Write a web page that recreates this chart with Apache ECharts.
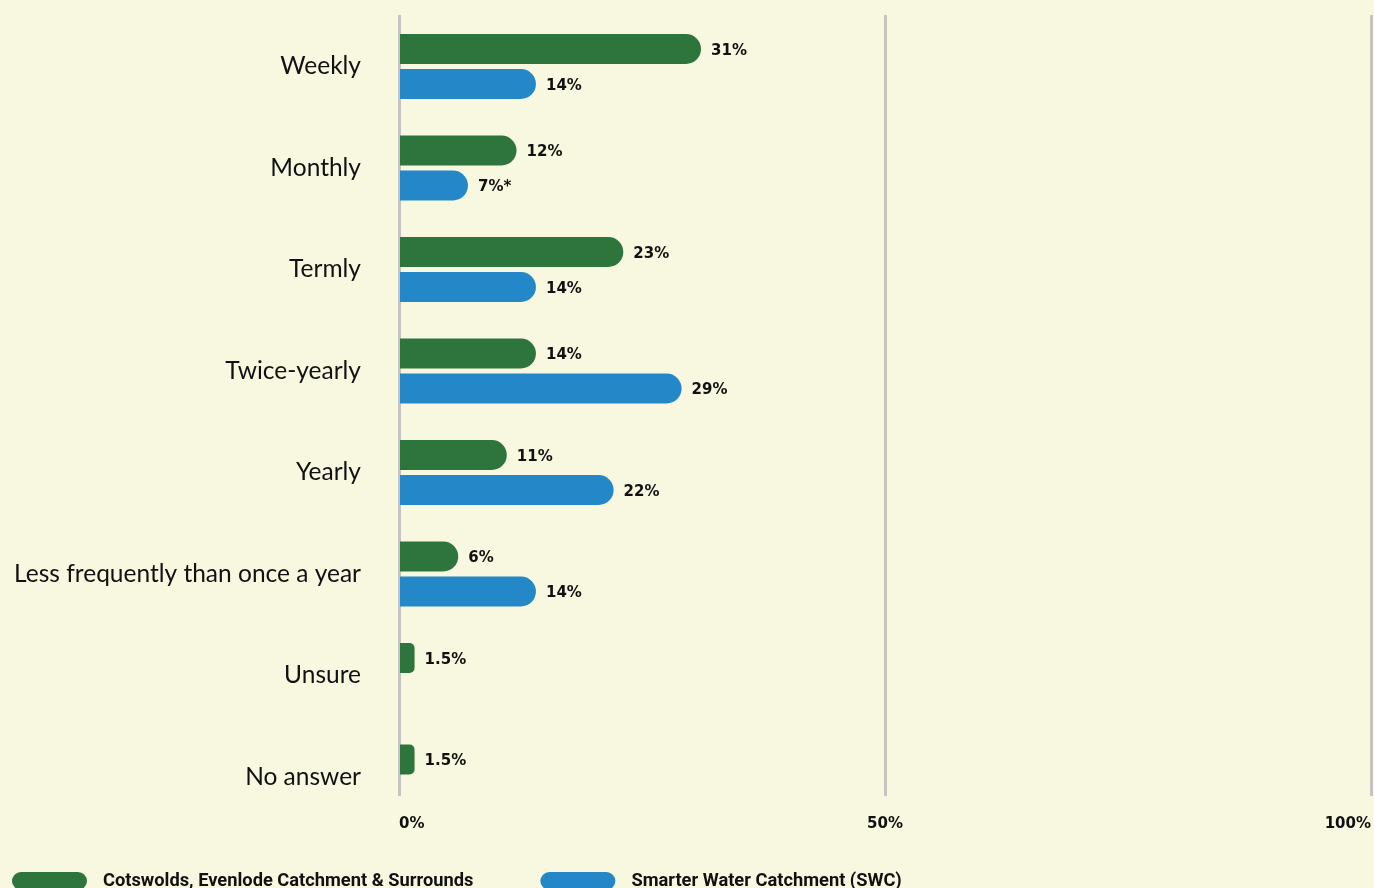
<!DOCTYPE html>
<html>
<head>
<meta charset="utf-8">
<script src="https://cdn.jsdelivr.net/npm/echarts@6/dist/echarts.min.js"></script>
<style>
  html, body { margin: 0; padding: 0; background: #f8f8e0; }
  #chart { width: 1374px; height: 888px; }
</style>
</head>
<body>
<div id="chart"></div>
<script>
// data
const categories = ["Weekly", "Monthly", "Termly", "Twice-yearly", "Yearly", "Less frequently than once a year", "Unsure", "No answer"];
const cotswolds = [31, 12, 23, 14, 11, 6, 1.5, 1.5];
const swc = [14, 7, 14, 29, 22, 14, "-", "-"];
const swcNotes = ["", "*", "", "", "", "", "", ""];
const axisTicks = [0, 50, 100];

const GREEN = "#2d743d";
const BLUE = "#2387c8";
const pill = "path://M9,0 L66,0 A9,9 0 0 1 66,18 L9,18 A9,9 0 0 1 9,0 Z";

const chart = echarts.init(document.getElementById("chart"));

const valueLabel = {
  show: true,
  position: "right",
  distance: 10,
  offset: [0, 2],
  color: "#111",
  fontFamily: "DejaVu Sans",
  fontWeight: "bold",
  fontSize: 15
};

// tiny bars get a small corner radius, like the reference
const toItems = arr => arr.map(v =>
  (typeof v === "number" && v < 3) ? { value: v, itemStyle: { borderRadius: [0, 5, 5, 0] } } : v
);

chart.setOption({
  backgroundColor: "#f8f8e0",
  animation: false,
  grid: [
    // bars
    { left: 400, right: 3, top: 15.75, height: 812 },
    // gridlines + value labels
    { left: 399, right: 3, top: 15, bottom: 92 }
  ],
  legend: {
    left: 12,
    top: 872,
    padding: 0,
    itemWidth: 75,
    itemHeight: 18,
    itemGap: 67,
    textStyle: {
      color: "#111",
      fontFamily: "Roboto",
      fontWeight: "bold",
      fontSize: 18.3,
      padding: [0, 0, 0, 11]
    },
    data: [
      { name: "Cotswolds, Evenlode Catchment & Surrounds", icon: pill },
      { name: "Smarter Water Catchment (SWC)", icon: pill }
    ]
  },
  xAxis: [
    { gridIndex: 0, type: "value", min: 0, max: 100, show: false },
    {
      gridIndex: 1,
      type: "value",
      min: axisTicks[0],
      max: axisTicks[axisTicks.length - 1],
      interval: axisTicks[1] - axisTicks[0],
      axisLine: { show: false },
      axisTick: { show: false },
      splitLine: { show: true, lineStyle: { color: "#c4c4c0", width: 3 } },
      axisLabel: {
        margin: 21,
        color: "#111",
        fontFamily: "DejaVu Sans",
        fontWeight: "bold",
        fontSize: 15,
        alignMinLabel: "left",
        alignMaxLabel: "right",
        formatter: "{value}%"
      }
    }
  ],
  yAxis: [
    {
      gridIndex: 0,
      type: "category",
      inverse: true,
      data: categories,
      axisLine: { show: false },
      axisTick: { show: false },
      axisLabel: { margin: 39, color: "#111", fontFamily: "Lato", fontSize: 24.5 }
    },
    { gridIndex: 1, type: "value", show: false }
  ],
  series: [
    {
      name: "Cotswolds, Evenlode Catchment & Surrounds",
      type: "bar",
      xAxisIndex: 0,
      yAxisIndex: 0,
      data: toItems(cotswolds),
      barWidth: 30,
      barGap: "16.7%",
      itemStyle: { color: GREEN, borderRadius: [0, 15, 15, 0] },
      label: Object.assign({}, valueLabel, { formatter: p => p.value + "%" })
    },
    {
      name: "Smarter Water Catchment (SWC)",
      type: "bar",
      xAxisIndex: 0,
      yAxisIndex: 0,
      data: toItems(swc),
      barWidth: 30,
      barGap: "16.7%",
      itemStyle: { color: BLUE, borderRadius: [0, 15, 15, 0] },
      label: Object.assign({}, valueLabel, { formatter: p => p.value + "%" + swcNotes[p.dataIndex] })
    }
  ]
});
</script>
</body>
</html>
